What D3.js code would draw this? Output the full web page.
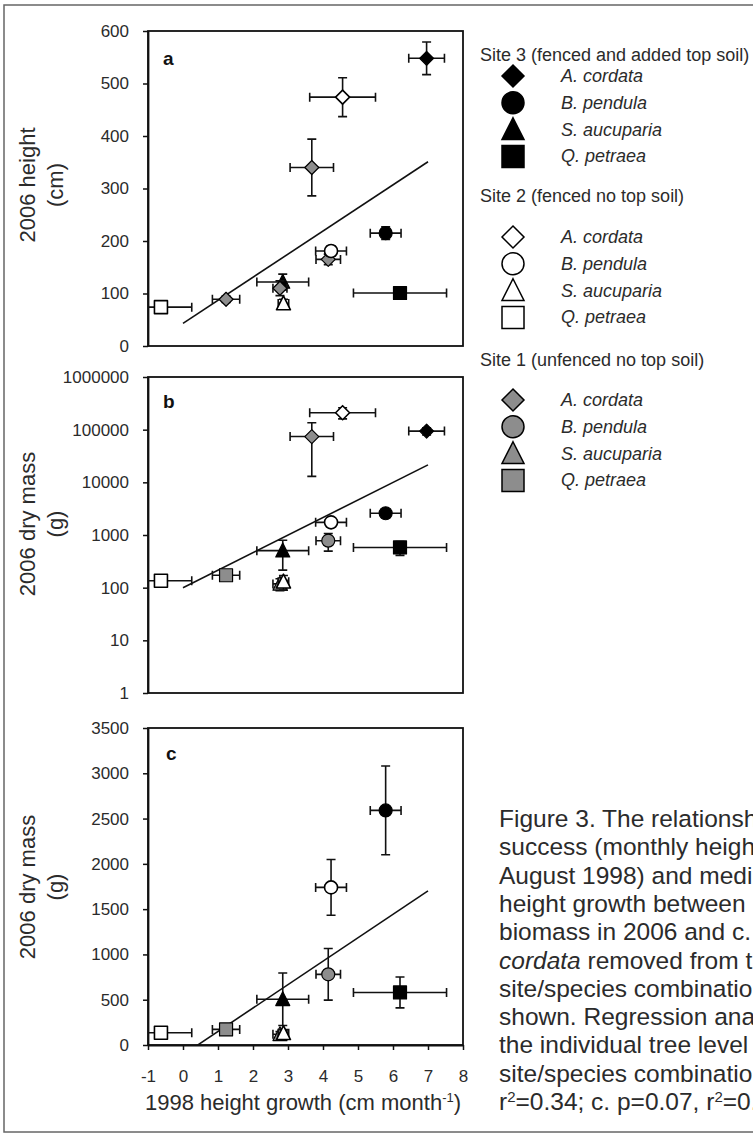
<!DOCTYPE html>
<html>
<head>
<meta charset="utf-8">
<script src="https://cdn.jsdelivr.net/npm/d3@7"></script>
<style>
  body { margin: 0; background: #fff; }
  svg { display: block; }
</style>
</head>
<body>
<svg id="chart"></svg>
<script>
// ---- data ----
const sites = [3, 2, 1];
const siteNames = ['Site 3 (fenced and added top soil)', 'Site 2 (fenced no top soil)', 'Site 1 (unfenced no top soil)'];
const species = ['A. cordata', 'B. pendula', 'S. aucuparia', 'Q. petraea'];

// one entry per site/species combination
const pointSite    = [3, 3, 3, 3, 2, 2, 2, 2, 1, 1, 1, 1];
const pointSpecies = ['A. cordata', 'B. pendula', 'S. aucuparia', 'Q. petraea',
                      'A. cordata', 'B. pendula', 'S. aucuparia', 'Q. petraea',
                      'A. cordata', 'B. pendula', 'S. aucuparia', 'Q. petraea'];
const growth   = [6.96, 5.79, 2.85, 6.2, 4.56, 4.23, 2.87, -0.63, 3.68, 4.15, 2.77, 1.23];
const growthSE = [0.51, 0.44, 0.74, 1.33, 0.94, 0.44, 0.15, 0.88, 0.62, 0.35, 0.2, 0.39];
const height   = [548, 215, 122, 101, 474, 181, 81, 74, 340, 165, 110, 89];
const heightSE = [31, 12, 15, 8, 37, 10, 8, 6, 54, 10, 14, 6];
const mass     = [94000, 2590, 505, 580, 210000, 1740, 130, 135, 74000, 780, 118, 172];
const massSE   = [15000, 490, 290, 170, 50000, 308, 40, 20, 61000, 285, 30, 25];

// in the height panel the site 1 series are all drawn with diamonds
const heightShapes = ['diamond', 'circle', 'triangle', 'square',
                      'diamond', 'circle', 'triangle', 'square',
                      'diamond', 'diamond', 'diamond', 'diamond'];

// regression lines: [intercept, slope] over growth 0..7
const fitRange = [0, 7];
const fitA = [43, 44];          // height (cm)
const fitB = [2.0, 0.333];      // log10 dry mass
const fitC = [-109, 258.6];     // dry mass without A. cordata

const xTicks = d3.range(-1, 9);
const heightTicks = [0, 100, 200, 300, 400, 500, 600];
const logMassTicks = [1, 10, 100, 1000, 10000, 100000, 1000000];
const massTicks = [0, 500, 1000, 1500, 2000, 2500, 3000, 3500];

const caption = [
  'Figure 3. The relationship between early',
  'success (monthly height growth June to',
  'August 1998) and medium-term success: a.',
  'height growth between 1998 and 2006, b.',
  'biomass in 2006 and c. biomass with A.',
  '<i>cordata</i> removed from the analysis. Each',
  'site/species combination mean \u00b1 SE is',
  'shown. Regression analysis was done at',
  'the individual tree level of all the',
  'site/species combinations; a. p<0.001,',
  'r<s>2</s>=0.34; c. p=0.07, r<s>2</s>=0.13.'
];

// ---- setup ----
const W = 753, H = 1134;
const font = '"Liberation Sans", Arial, Helvetica, sans-serif';
const ink = '#2b2b2b';
const fills = { 3: '#000', 2: '#fff', 1: '#8d8d8d' };
const shapeOf = { 'A. cordata': 'diamond', 'B. pendula': 'circle', 'S. aucuparia': 'triangle', 'Q. petraea': 'square' };
const drawOrder = [3, 1, 2]; // site 2 markers sit on top

const svg = d3.select('#chart')
  .attr('width', W)
  .attr('height', H)
  .style('font-family', font);

// outer frame of the figure
svg.append('rect')
  .attr('x', 4).attr('y', 5)
  .attr('width', W + 20).attr('height', 1127)
  .attr('fill', 'none')
  .attr('stroke', '#666')
  .attr('stroke-width', 1.5);

const points = d3.range(pointSite.length).map(i => ({
  i,
  site: pointSite[i],
  sp: pointSpecies[i],
  g: growth[i], gse: growthSE[i],
  h: height[i], hse: heightSE[i],
  m: mass[i], mse: massSE[i]
}));

function markerPath(shape, w) {
  const p = d3.path(), r = w / 2;
  if (shape === 'circle') {
    p.moveTo(r, 0); p.arc(0, 0, r, 0, 2 * Math.PI);
  } else if (shape === 'square') {
    p.rect(-r, -r, w, w);
  } else if (shape === 'diamond') {
    p.moveTo(0, -r); p.lineTo(r, 0); p.lineTo(0, r); p.lineTo(-r, 0); p.closePath();
  } else {
    p.moveTo(0, -r * 1.08); p.lineTo(r, r * 0.9); p.lineTo(-r, r * 0.9); p.closePath();
  }
  return p.toString();
}
const dataSize = { circle: 13, square: 13, diamond: 14, triangle: 14 };

const x = d3.scaleLinear().domain([-1, 8]).range([148, 463]);

const panels = [
  {
    key: 'a', label: [163, 65],
    y: d3.scaleLinear().domain([0, 600]).range([346, 31]),
    ticks: heightTicks,
    title: ['2006 height', '(cm)'], titleY: 185,
    val: d => d.h, se: d => d.hse,
    shape: d => heightShapes[d.i],
    fit: g => fitA[0] + fitA[1] * g,
    keep: d => true
  },
  {
    key: 'b', label: [163, 408],
    y: d3.scaleLog().domain([1, 1e6]).range([693, 377]),
    ticks: logMassTicks,
    title: ['2006 dry mass', '(g)'], titleY: 524,
    val: d => d.m, se: d => d.mse,
    shape: d => shapeOf[d.sp],
    fit: g => Math.pow(10, fitB[0] + fitB[1] * g),
    keep: d => true
  },
  {
    key: 'c', label: [166, 760],
    y: d3.scaleLinear().domain([0, 3500]).range([1045, 728]),
    ticks: massTicks,
    title: ['2006 dry mass', '(g)'], titleY: 887,
    val: d => d.m, se: d => d.mse,
    shape: d => shapeOf[d.sp],
    fit: g => fitC[0] + fitC[1] * g,
    keep: d => d.sp !== 'A. cordata',
    xAxis: true
  }
];

panels.forEach(p => {
  const [y0, y1] = p.y.range();
  const [x0, x1] = x.range();
  const g = svg.append('g');

  g.append('clipPath').attr('id', 'clip-' + p.key)
    .append('rect')
    .attr('x', x0).attr('y', y1)
    .attr('width', x1 - x0).attr('height', y0 - y1);

  // plot box
  g.append('rect')
    .attr('x', x0).attr('y', y1)
    .attr('width', x1 - x0).attr('height', y0 - y1)
    .attr('fill', 'none')
    .attr('stroke', '#111')
    .attr('stroke-width', 1.8);

  // y axis
  const yAxis = g.append('g')
    .attr('transform', `translate(${x0},0)`)
    .call(d3.axisLeft(p.y).tickValues(p.ticks).tickSize(5).tickSizeOuter(0)
      .tickPadding(14).tickFormat(d => String(d)));
  yAxis.select('.domain').attr('stroke', '#111').attr('stroke-width', 1.8);
  yAxis.selectAll('.tick line').attr('stroke', '#111').attr('stroke-width', 1.5);
  yAxis.selectAll('.tick text').attr('fill', ink).style('font-size', '17px').style('font-family', font);

  // x axis (bottom panel only)
  if (p.xAxis) {
    const xAxis = g.append('g')
      .attr('transform', `translate(0,${y0})`)
      .call(d3.axisBottom(x).tickValues(xTicks).tickSize(5).tickSizeOuter(0)
        .tickPadding(20).tickFormat(d => String(d)));
    xAxis.select('.domain').attr('stroke', '#111').attr('stroke-width', 1.8);
    xAxis.selectAll('.tick line').attr('stroke', '#111').attr('stroke-width', 1.5);
    xAxis.selectAll('.tick text').attr('fill', ink).style('font-size', '17px').style('font-family', font);

    const xt = g.append('text')
      .attr('x', 303).attr('y', 1110)
      .attr('text-anchor', 'middle')
      .attr('fill', ink)
      .style('font-size', '22px');
    xt.append('tspan').text('1998 height growth (cm month');
    xt.append('tspan').attr('dy', -8).style('font-size', '13px').text('-1');
    xt.append('tspan').attr('dy', 8).text(')');
  }

  // y title, two lines
  p.title.forEach((line, k) => {
    g.append('text')
      .attr('transform', `translate(${[35, 63][k]},${p.titleY}) rotate(-90)`)
      .attr('text-anchor', 'middle')
      .attr('fill', ink)
      .style('font-size', '22px')
      .text(line);
  });

  // panel letter
  g.append('text')
    .attr('x', p.label[0]).attr('y', p.label[1])
    .attr('fill', '#111')
    .style('font-size', '19px')
    .style('font-weight', 'bold')
    .text(p.key);

  // regression line
  g.append('path')
    .datum(fitRange)
    .attr('clip-path', `url(#clip-${p.key})`)
    .attr('d', d3.line().x(v => x(v)).y(v => p.y(p.fit(v))))
    .attr('fill', 'none')
    .attr('stroke', '#111')
    .attr('stroke-width', 1.6);

  const cap = 4.5;
  drawOrder.forEach(site => {
    const pts = points.filter(d => d.site === site && p.keep(d));

    // error bars behind the markers
    const bars = g.append('g')
      .attr('clip-path', `url(#clip-${p.key})`)
      .attr('stroke', '#111')
      .attr('stroke-width', 1.6)
      .attr('fill', 'none');
    pts.forEach(d => {
      const cx = x(d.g), cy = p.y(p.val(d));
      const xl = x(d.g - d.gse), xr = x(d.g + d.gse);
      const yt = p.y(p.val(d) + p.se(d));
      const yb = p.y(Math.max(p.val(d) - p.se(d), 1));
      const path = d3.path();
      path.moveTo(xl, cy); path.lineTo(xr, cy);
      path.moveTo(xl, cy - cap); path.lineTo(xl, cy + cap);
      path.moveTo(xr, cy - cap); path.lineTo(xr, cy + cap);
      path.moveTo(cx, yt); path.lineTo(cx, yb);
      path.moveTo(cx - cap, yt); path.lineTo(cx + cap, yt);
      path.moveTo(cx - cap, yb); path.lineTo(cx + cap, yb);
      bars.append('path').attr('d', path.toString());
    });

    g.selectAll(null)
      .data(pts)
      .join('path')
      .attr('transform', d => `translate(${x(d.g)},${p.y(p.val(d))})`)
      .attr('d', d => markerPath(p.shape(d), dataSize[p.shape(d)]))
      .attr('fill', fills[site])
      .attr('stroke', '#000')
      .attr('stroke-width', site === 2 ? 1.6 : 1.2)
      .attr('stroke-linejoin', 'round');
  });
});

// ---- legend ----
const legendHeaderY = [61, 202, 366];
const legendFirstY = [76, 237, 400];
const legendStep = 26.8;
const legend = svg.append('g').attr('fill', ink).style('font-size', '18px');

sites.forEach((site, si) => {
  legend.append('text')
    .attr('x', 480).attr('y', legendHeaderY[si])
    .text(siteNames[si]);

  species.forEach((sp, k) => {
    const cy = legendFirstY[si] + k * legendStep;
    legend.append('path')
      .attr('transform', `translate(513,${cy})`)
      .attr('d', markerPath(shapeOf[sp], 22))
      .attr('fill', fills[site])
      .attr('stroke', '#000')
      .attr('stroke-width', 1.5);
    legend.append('text')
      .attr('x', 561).attr('y', cy + 6)
      .style('font-style', 'italic')
      .text(sp);
  });
});

// ---- caption (runs off the right edge like the original) ----
const capG = svg.append('g').attr('fill', ink).style('font-size', '24.5px');
caption.forEach((line, k) => {
  const t = capG.append('text').attr('x', 499).attr('y', 827 + k * 28.3);
  let lift = 0; // superscript offset still to undo
  line.split(/(<i>.*?<\/i>|<s>.*?<\/s>)/).filter(s => s).forEach(part => {
    if (part.startsWith('<s>')) {
      t.append('tspan').attr('dy', -8).style('font-size', '15px').text(part.slice(3, -4));
      lift = 8;
      return;
    }
    const span = t.append('tspan').attr('dy', lift);
    lift = 0;
    if (part.startsWith('<i>')) span.style('font-style', 'italic').text(part.slice(3, -4));
    else span.text(part);
  });
});
</script>
</body>
</html>
